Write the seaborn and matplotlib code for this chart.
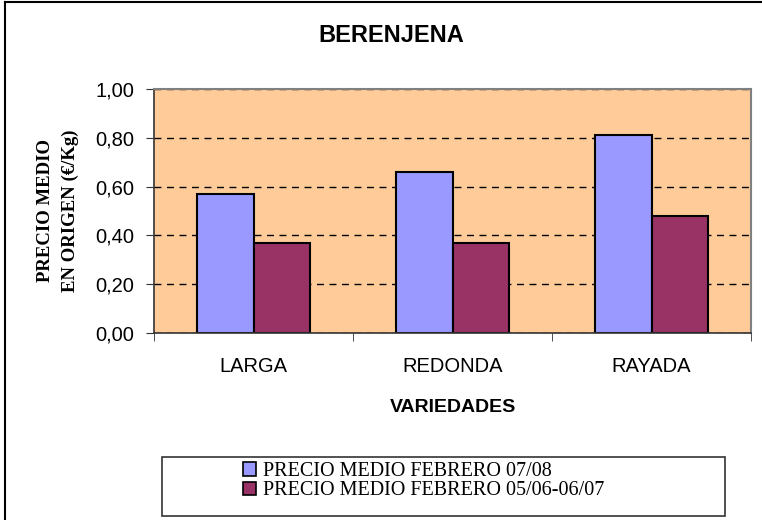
import pandas as pd
import matplotlib.pyplot as plt
import seaborn as sns
from matplotlib.patches import Patch, Rectangle
from matplotlib.lines import Line2D

# datos
variedades = ["LARGA", "REDONDA", "RAYADA"]
precio_0708 = [0.57, 0.66, 0.81]
precio_0607 = [0.37, 0.37, 0.48]
series = ["PRECIO MEDIO FEBRERO 07/08", "PRECIO MEDIO FEBRERO 05/06-06/07"]
colores = ["#9999FF", "#993366"]
yticks = [0.0, 0.2, 0.4, 0.6, 0.8, 1.0]
ytick_labels = ["0,00", "0,20", "0,40", "0,60", "0,80", "1,00"]

df = pd.DataFrame({
    "variedad": variedades * 2,
    "precio": precio_0708 + precio_0607,
    "serie": [series[0]] * 3 + [series[1]] * 3,
})

W, H = 762, 520
fig = plt.figure(figsize=(W / 100, H / 100), dpi=100)
ax = fig.add_axes([154 / W, (H - 333) / H, 597 / W, 244 / H])
ax.set_facecolor("#FFCC99")

sns.barplot(data=df, x="variedad", y="precio", hue="serie", hue_order=series,
            palette=colores, saturation=1, width=0.57, gap=0,
            edgecolor="black", linewidth=1.5, legend=False, ax=ax)

ax.set_ylim(0, 1)
ax.set_xlim(-0.5, 2.5)
ax.set_yticks(yticks)
ax.set_yticklabels(ytick_labels, fontfamily="Liberation Sans", fontsize=14.5)
ax.tick_params(axis="y", length=6, pad=8, color="#333333")
# etiquetas en el centro, marcas entre categorias
ax.tick_params(axis="x", which="major", length=0, pad=17, labelsize=14.5)
for t in ax.get_xticklabels():
    t.set_fontfamily("Liberation Sans")
ax.set_xticks([-0.5, 0.5, 1.5, 2.5], minor=True)
ax.tick_params(axis="x", which="minor", length=6, color="#333333")

ax.set_axisbelow(True)
ax.yaxis.grid(True, linestyle=(0, (5, 4)), color="black", linewidth=1)

for s in ["top", "right"]:
    ax.spines[s].set_color("#808080")
    ax.spines[s].set_linewidth(1.5)
for s in ["left", "bottom"]:
    ax.spines[s].set_color("#333333")
    ax.spines[s].set_linewidth(1.2)

ax.set_xlabel("VARIEDADES", fontfamily="Liberation Sans", fontweight="bold",
              fontsize=14, labelpad=17)
ax.set_ylabel("PRECIO MEDIO\nEN ORIGEN (€/Kg)", fontfamily="Liberation Serif",
              fontweight="bold", fontsize=13.5, labelpad=12, linespacing=1.6)

fig.text(391 / W, 1 - 35 / H, "BERENJENA", ha="center", va="center",
         fontfamily="Liberation Sans", fontweight="bold", fontsize=17)

# cuadro de leyenda
fig.patches.append(Rectangle((162 / W, (H - 516) / H), (725 - 162) / W, 59 / H,
                             transform=fig.transFigure, facecolor="white",
                             edgecolor="#333333", linewidth=1.2))
handles = [Patch(facecolor=c, edgecolor="black", linewidth=1.2) for c in colores]
fig.legend(handles, series, loc="upper left",
           bbox_to_anchor=(243 / W, 1 - 462 / H), frameon=False,
           prop={"family": "Liberation Serif", "size": 14.5},
           handlelength=0.65, handleheight=0.65, handletextpad=0.36,
           labelspacing=0.02, borderpad=0, borderaxespad=0)

# borde del grafico
fig.lines.append(Line2D([5 / W, 5 / W], [0, 1 - 2 / H], transform=fig.transFigure,
                        color="black", linewidth=1.5))
fig.lines.append(Line2D([5 / W, 1], [1 - 2 / H, 1 - 2 / H], transform=fig.transFigure,
                        color="black", linewidth=1.5))

fig.savefig("out.png", dpi=100)
